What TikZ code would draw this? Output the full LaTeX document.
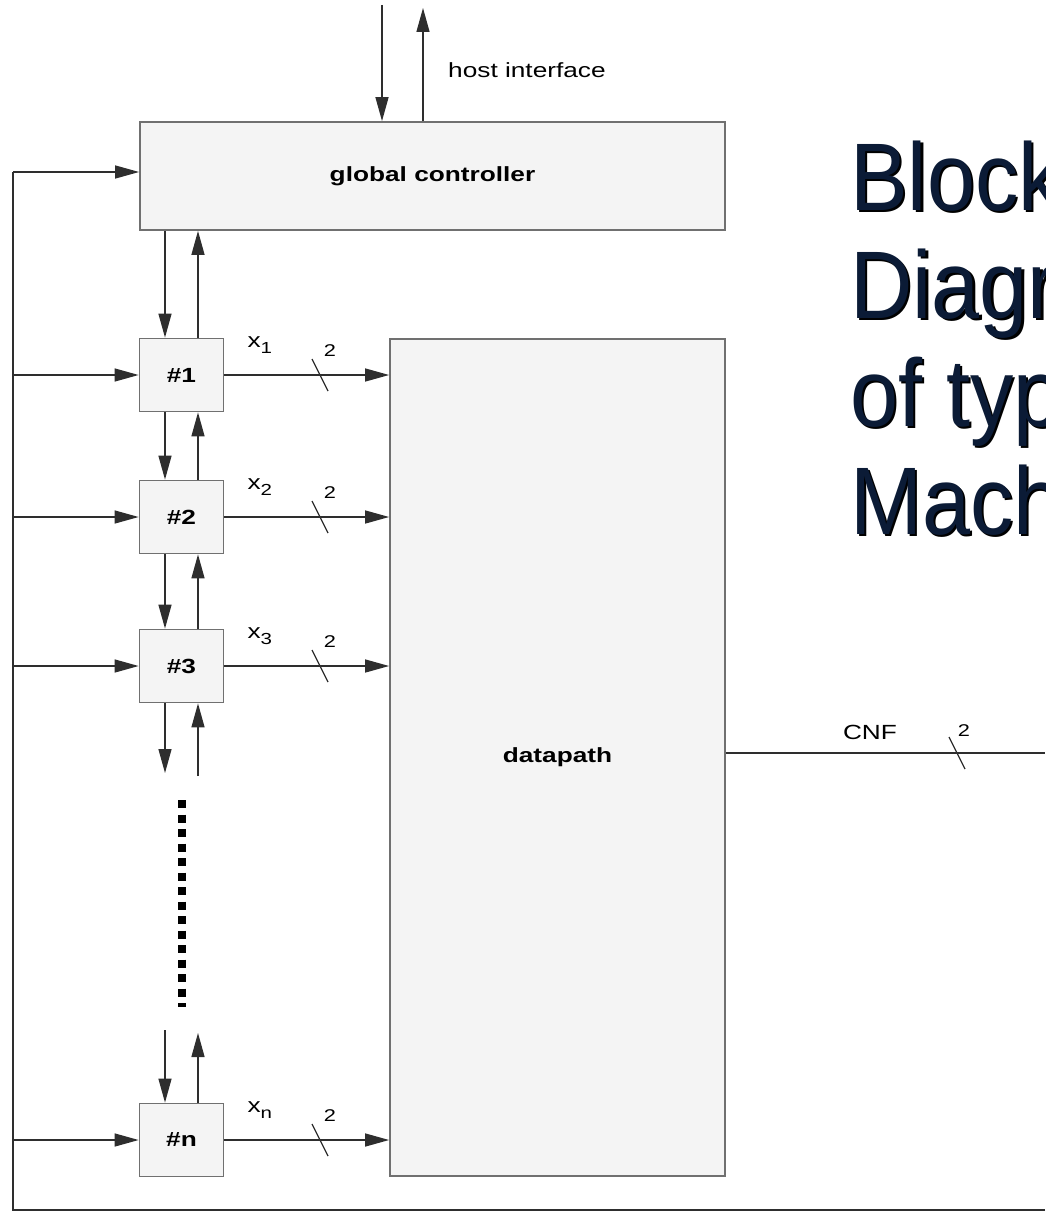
\documentclass[tikz,border=0pt]{standalone}
\usepackage{fontspec}
\setmainfont{Liberation Sans}[FakeStretch=1.28]
\newfontfamily\titlefont{Liberation Sans}[FakeStretch=0.9]
\usepackage{xcolor}
\usepackage{tikz}
\usetikzlibrary{arrows.meta,calc}
\definecolor{boxfill}{HTML}{F4F4F4}
\definecolor{boxline}{HTML}{707070}
\definecolor{wiregray}{HTML}{2E2E2E}
\definecolor{titleblue}{HTML}{0B1B36}
\newcommand{\shadowtext}[1]{\rlap{\hspace{2.5pt}\raisebox{-2.5pt}{\color{black}#1}}{\color{titleblue}#1}}
\newcommand{\xsub}[1]{x\raisebox{-6pt}{\fontsize{16}{18}\selectfont #1}}
\tikzset{
  bus/.pic={\draw[draw=wiregray,line width=1.2pt] (-8,-16) -- (8,16);}
}

\begin{document}
\begin{tikzpicture}[x=1pt,y=-1pt,
  blk/.style={draw=boxline,fill=boxfill,line width=1.8pt,inner sep=0pt,
    font=\fontsize{20.5}{24}\selectfont\bfseries},
  unit/.style={blk,minimum width=84pt,minimum height=73pt},
  wire/.style={draw=wiregray,line width=1.4pt},
  sig/.style={wire,-{Triangle[length=24pt,width=13pt]}},
  lbl/.style={font=\fontsize{20.5}{24}\selectfont,inner sep=0pt},
  small/.style={font=\fontsize{17}{20}\selectfont,inner sep=0pt},
  title/.style={font=\titlefont\fontsize{96}{108}\selectfont,inner sep=0pt}]
\useasboundingbox (0,0) rectangle (1045,1212);
\clip (0,0) rectangle (1045,1212);

% blocks
\node[blk,minimum width=585pt,minimum height=108pt] (gc) at (432.5,176) {global controller};
\node[blk,minimum width=335pt,minimum height=837pt] (dp) at (557.5,757.5) {datapath};
\foreach \i/\y in {1/375,2/517,3/666,n/1140}
  \node[unit] (u\i) at (181.5,\y) {\#\i};

% helper points
\coordinate (hdn) at (382,5);
\coordinate (hup) at (423,8);
\coordinate (busx) at (320,0);
\coordinate (bustop) at (13,172);
\coordinate (busbot) at (13,1210);
\coordinate (loopend) at (1045,1210);
\coordinate (cnfend) at (1045,753);
\coordinate (s3dn) at (165,773);
\coordinate (s3up) at (198,776);
\coordinate (sndn) at (165,1030);
\coordinate (snup) at (198,1033);
\coordinate (dtop) at (182,800);
\coordinate (dbot) at (182,1007);

% host interface
\draw[sig] (hdn) -- (hdn |- gc.north);
\draw[sig] (hup |- gc.north) -- (hup);
\node[lbl,anchor=west] (host) at (448,70) {host interface};

% control chain
\foreach \a/\b in {gc/u1,u1/u2,u2/u3} {
  \coordinate (dn) at ([xshift=-16.5pt]\b.north);
  \coordinate (up) at ([xshift=16.5pt]\b.north);
  \draw[sig] (dn |- \a.south) -- (dn);
  \draw[sig] (up) -- (up |- \a.south);
}
\draw[sig] (u3.south -| s3dn) -- (s3dn);
\draw[sig] (s3up) -- (u3.south -| s3up);
\draw[sig] (sndn) -- (un.north -| sndn);
\draw[sig] (un.north -| snup) -- (snup);
\draw[line width=8pt,dash pattern=on 8pt off 6.5pt] (dtop) -- (dbot);

% feedback loop and inputs
\draw[wire] (loopend) -- (busbot) -- (bustop);
\draw[sig] (bustop) -- (bustop -| gc.west);
\foreach \i in {1,2,3,n}
  \draw[sig] (u\i.west -| bustop) -- (u\i.west);

% outputs to datapath
\foreach \i in {1,2,3,n} {
  \draw[sig] (u\i.east) -- (u\i.east -| dp.west);
  \path (u\i.east -| busx) pic {bus};
  \node[small] at ($(u\i.east -| busx)+(10,-24)$) {2};
  \node[lbl,anchor=west] at ($(u\i.east)+(23,-30)$) {\xsub{\i}};
}

% CNF output
\coordinate (cnfbus) at (957,753);
\draw[wire] (dp.east |- cnfend) -- (cnfend);
\path (cnfbus) pic {bus};
\node[small] at ($(cnfbus)+(7,-22)$) {2};
\node[lbl] (cnf) at (870,732) {CNF};

% title
\foreach \k/\txt in {1/Block,2/Diagr,3/of typ,4/Mach}
  \node[title,anchor=base west] (t\k) at (850,102+108*\k) {\shadowtext{\txt}};
\end{tikzpicture}
\end{document}
